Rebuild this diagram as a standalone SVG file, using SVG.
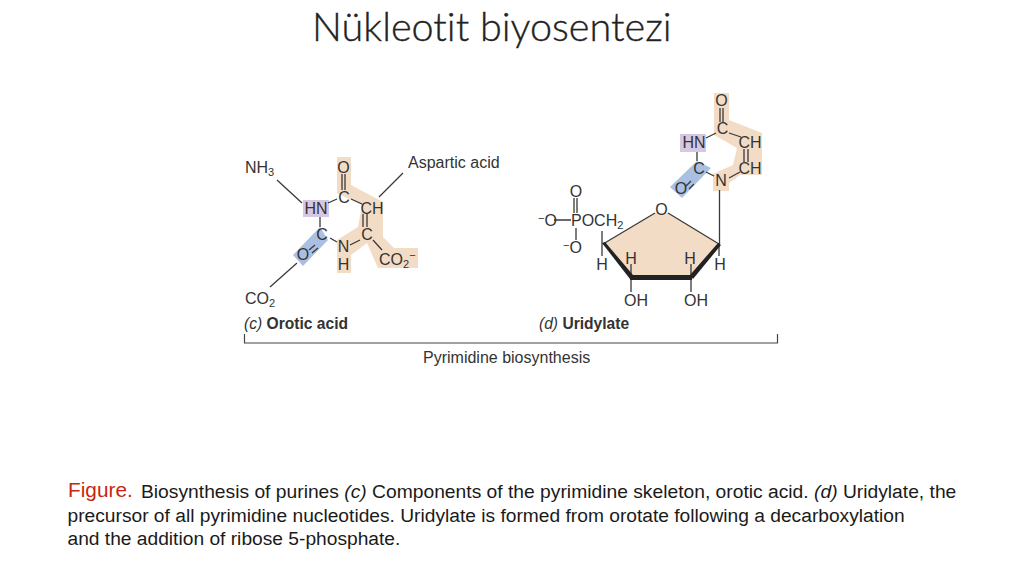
<svg xmlns="http://www.w3.org/2000/svg" width="1024" height="576" viewBox="0 0 1024 576">
<style>
text{font-family:"Liberation Sans",Arial,sans-serif;fill:#333}
.a{font-size:16px}
.m{text-anchor:middle}
.s{font-size:11px}
.b{font-weight:bold}
.i{font-style:italic}
.c{font-size:19.200px;fill:#1a1a1a}
.bond{stroke:#3a3a3a;stroke-width:1.300;fill:none}
.or{fill:#f3dcc5}.bl{fill:#a9c0e2}.pu{fill:#d6c8e3}
</style>
<rect width="1024" height="576" fill="#fff"/>
<g id="title"><text x="312" y="41" style="font-family:Lato,'Open Sans',sans-serif;font-size:39.600px;font-weight:300;font-variant-ligatures:none;fill:#222;stroke:#222;stroke-width:0.350">Nükleotit biyosentezi</text></g>

<g id="orotic-highlights">
<polygon class="or" points="337,157 351,157 351,185 383,202 383,237 394,248 418,248 418,268 378,268 367,243 351,255 351,273 337,273 337,240 358,227 362,205 337,193"/>
<polygon class="bl" points="293,255 320,227 328,240 303,266"/>
<rect class="pu" x="303" y="200" width="26" height="17"/>
</g>
<g id="uridylate-highlights">
<polygon class="or" points="714,93 729,93 729,120 762,133 762,175 740,175 729,183 729,191 713,191 713,174 733,165 737,148 714,135"/>
<polygon class="bl" points="670,187 697,161 711,168 682,198"/>
<rect class="pu" x="680" y="134" width="26" height="18"/>
<polygon class="or" points="603,244 655,213 668,213 719,244 692,278 631,278"/>
</g>

<g id="connectors">
<path class="bond" d="M277 180L302 203M403 173L379 197M297 263L270 287"/>
<path class="bond" d="M342 174V190M345 174V190M328 203L337 199M351 199L362 204M320 217V227M330 238L337 242M350 245L360 240M363 214V227M367 214V227M373 240L382 250M315 245L309 250M318 248L312 253"/>
<path class="bond" d="M720 108V122M723 108V122M706 138L716 133M729 133L741 137M697 152V161M706 172L714 176M729 178L740 172M744 149V162M748 149V162M691 181L686 186M694 184L689 189M719.500 190V244"/>
<path class="bond" d="M574 198V213M577 198V213M554 220H571M576 228V240M602 231V244M603 244L655 213M668 213L719 244M602 244V256M719 244V256M631 278V292M691 278V292M631 264V278M691 264V278"/>
<polygon points="602,243 605,242 633,275 633,279 630,279" fill="#222"/>
<polygon points="718,243 721,245 693,279 690,275" fill="#222"/>
<rect x="630" y="275" width="62" height="5" fill="#222"/>
<path d="M244.500 334V343H777.500V334" fill="none" stroke="#444" stroke-width="1.200"/>
</g>

<g id="orotic-acid">
<text class="a" x="245" y="173">NH<tspan class="s" dy="3">3</tspan></text>
<text class="a m" x="343.500" y="172.500">O</text>
<text class="a m" x="344" y="202.500">C</text>
<text class="a m" x="316" y="213.500">HN</text>
<text class="a m" x="372" y="213.500">CH</text>
<text class="a m" x="322" y="239.500">C</text>
<text class="a m" x="343.500" y="251.500">N</text>
<text class="a m" x="367" y="239.500">C</text>
<text class="a m" x="303" y="259.500">O</text>
<text class="a m" x="343.500" y="269.500">H</text>
<text class="a" x="379" y="265">CO<tspan class="s" dy="3">2</tspan><tspan class="s" dy="-9">−</tspan></text>
<text class="a" x="245" y="304">CO<tspan class="s" dy="3">2</tspan></text>
<text class="a" x="408" y="168">Aspartic acid</text>
<text style="font-size:15.600px" x="244" y="329"><tspan class="i">(c)</tspan> <tspan class="b">Orotic acid</tspan></text>
</g>

<g id="uridylate">
<text class="a m" x="721.500" y="105.500">O</text>
<text class="a m" x="722.500" y="134">C</text>
<text class="a m" x="694" y="147.500">HN</text>
<text class="a m" x="750" y="147.500">CH</text>
<text class="a m" x="750" y="173.500">CH</text>
<text class="a m" x="699" y="173.500">C</text>
<text class="a m" x="721" y="185.500">N</text>
<text class="a m" x="681" y="193.500">O</text>
<text class="a m" x="576" y="196.500">O</text>
<text class="a" x="538" y="225.500"><tspan class="s" dy="-4">−</tspan><tspan dy="4">O</tspan></text>
<text class="a" x="571" y="225.500">POCH<tspan class="s" dy="3">2</tspan></text>
<text class="a" x="563" y="252.500"><tspan class="s" dy="-4">−</tspan><tspan dy="4">O</tspan></text>
<text class="a m" x="661.500" y="214.500">O</text>
<text class="a m" x="602" y="269.500">H</text>
<text class="a m" x="631" y="263.500">H</text>
<text class="a m" x="690" y="263.500">H</text>
<text class="a m" x="720" y="269.500">H</text>
<text class="a m" x="636" y="305.500">OH</text>
<text class="a m" x="696" y="305.500">OH</text>
<text style="font-size:15.600px" x="539" y="329"><tspan class="i">(d)</tspan> <tspan class="b">Uridylate</tspan></text>
</g>

<g id="bracket-label"><text class="a" x="423" y="363">Pyrimidine biosynthesis</text></g>

<g id="caption">
<text x="68" y="497" style="font-size:20.800px;fill:#c8260f">Figure.</text>
<text x="141" y="498" class="c" style="font-size:19.250px">Biosynthesis of purines <tspan class="i">(c)</tspan> Components of the pyrimidine skeleton, orotic acid. <tspan class="i">(d)</tspan> Uridylate, the</text>
<text class="c" x="67.500" y="522">precursor of all pyrimidine nucleotides. Uridylate is formed from orotate following a decarboxylation</text>
<text class="c" x="67.500" y="545">and the addition of ribose 5-phosphate.</text>
</g>
</svg>
